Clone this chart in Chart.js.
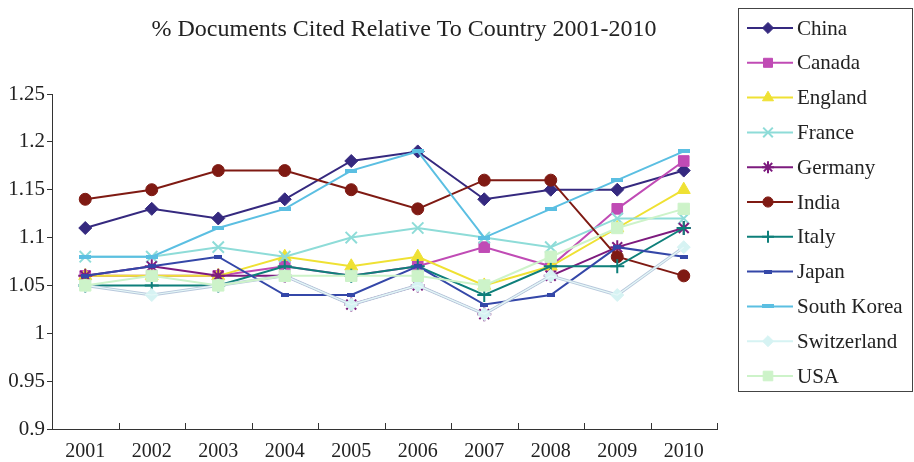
<!DOCTYPE html>
<html>
<head>
<meta charset="utf-8">
<script src="https://cdn.jsdelivr.net/npm/chart.js@4.4.1/dist/chart.umd.min.js"></script>
<style>
  html, body { margin: 0; padding: 0; background: #ffffff; }
  #wrap { width: 914px; height: 462px; position: relative; }
</style>
</head>
<body>
<div id="wrap"><canvas id="c" width="914" height="462"></canvas></div>
<script>
// Years on the category axis
const years = ['2001', '2002', '2003', '2004', '2005', '2006', '2007', '2008', '2009', '2010'];

// Share of documents cited, relative to each country's average
const china       = [1.11, 1.13, 1.12, 1.14, 1.18, 1.19, 1.14, 1.15, 1.15, 1.17];
const canada      = [1.06, 1.06, 1.06, 1.07, 1.06, 1.07, 1.09, 1.07, 1.13, 1.18];
const england     = [1.06, 1.06, 1.06, 1.08, 1.07, 1.08, 1.05, 1.07, 1.11, 1.15];
const france      = [1.08, 1.08, 1.09, 1.08, 1.10, 1.11, 1.10, 1.09, 1.12, 1.12];
const germany     = [1.06, 1.07, 1.06, 1.06, 1.03, 1.05, 1.02, 1.06, 1.09, 1.11];
const india       = [1.14, 1.15, 1.17, 1.17, 1.15, 1.13, 1.16, 1.16, 1.08, 1.06];
const italy       = [1.05, 1.05, 1.05, 1.07, 1.06, 1.07, 1.04, 1.07, 1.07, 1.11];
const japan       = [1.06, 1.07, 1.08, 1.04, 1.04, 1.07, 1.03, 1.04, 1.09, 1.08];
const southKorea  = [1.08, 1.08, 1.11, 1.13, 1.17, 1.19, 1.10, 1.13, 1.16, 1.19];
const switzerland = [1.05, 1.04, 1.05, 1.06, 1.03, 1.05, 1.02, 1.06, 1.04, 1.09];
const usa         = [1.05, 1.06, 1.05, 1.06, 1.06, 1.06, 1.05, 1.08, 1.11, 1.13];

// Value axis ticks
const yTicks = [0.9, 0.95, 1, 1.05, 1.1, 1.15, 1.2, 1.25];

const titleText = '% Documents Cited Relative To Country 2001-2010';
const serif = '"Liberation Serif", "Times New Roman", serif';

// Small flat bar markers (Japan, South Korea)
function barMarker(w, h, color) {
  const c = document.createElement('canvas');
  c.width = w; c.height = h;
  const g = c.getContext('2d');
  g.fillStyle = color;
  g.fillRect(0, 0, w, h);
  return c;
}

const series = [
  { label: 'China',       data: china,       color: '#35297f', style: 'rectRot',  r: 6.5 },
  { label: 'Canada',      data: canada,      color: '#c04bb5', style: 'rect',     r: 7.5 },
  { label: 'England',     data: england,     color: '#efe133', style: 'triangle', r: 7.5 },
  { label: 'France',      data: france,      color: '#8edcd8', style: 'crossRot', r: 8 },
  { label: 'Germany',     data: germany,     color: '#7d1b7e', style: 'star',     r: 7 },
  { label: 'India',       data: india,       color: '#7f1a13', style: 'circle',   r: 6 },
  { label: 'Italy',       data: italy,       color: '#0e7f7a', style: 'cross',    r: 7 },
  { label: 'Japan',       data: japan,       color: '#3447a8', style: barMarker(8, 4, '#3447a8'),  r: 5 },
  { label: 'South Korea', data: southKorea,  color: '#5bbfe2', style: barMarker(12, 4, '#5bbfe2'), r: 6 },
  { label: 'Switzerland', data: switzerland, color: '#d6f3f3', style: 'rectRot',  r: 6.5 },
  { label: 'USA',         data: usa,         color: '#cdf3c9', style: 'rect',     r: 8 }
];

const datasets = series.map((s, i) => ({
  label: s.label,
  data: s.data,
  borderColor: s.label === 'Switzerland' ? '#b8c8dc' : s.color,
  backgroundColor: s.color,
  borderWidth: s.label === 'Switzerland' ? 3 : 2,
  pointStyle: s.style,
  pointRadius: s.r,
  pointHoverRadius: s.r,
  pointBorderColor: s.color,
  pointBackgroundColor: s.color,
  pointBorderWidth: (s.style === 'cross' || s.style === 'crossRot' || s.style === 'star') ? 2 : 1,
  tension: 0,
  fill: false,
  clip: false,
  order: series.length - i
}));

// Light core of the Switzerland line, drawn over its darker edge
const doubleLine = {
  id: 'doubleLine',
  afterDatasetDraw(chart, args) {
    const ds = chart.data.datasets[args.index];
    if (ds.label !== 'Switzerland') return;
    const pts = args.meta.data;
    const ctx = chart.ctx;
    ctx.save();
    ctx.strokeStyle = '#e6f8f8';
    ctx.lineWidth = 1.2;
    ctx.beginPath();
    pts.forEach((p, k) => { if (k === 0) ctx.moveTo(p.x, p.y); else ctx.lineTo(p.x, p.y); });
    ctx.stroke();
    ctx.restore();
  }
};

// Title, inward category ticks and boxed legend
const decorations = {
  id: 'decorations',
  afterDraw(chart) {
    const ctx = chart.ctx;
    const area = chart.chartArea;
    ctx.save();

    ctx.fillStyle = '#222';
    ctx.font = '24px ' + serif;
    ctx.textAlign = 'center';
    ctx.textBaseline = 'alphabetic';
    ctx.fillText(titleText, 404, 36);

    const n = years.length;
    const step = (area.right - area.left) / n;
    ctx.strokeStyle = '#333';
    ctx.lineWidth = 1;
    for (let i = 1; i <= n; i++) {
      const x = Math.round(area.left + i * step) + 0.5;
      ctx.beginPath();
      ctx.moveTo(x, area.bottom);
      ctx.lineTo(x, area.bottom - 6);
      ctx.stroke();
    }

    // legend box
    ctx.strokeStyle = '#444';
    ctx.lineWidth = 1;
    ctx.strokeRect(738.5, 8.5, 174, 383);

    ctx.font = '21px ' + serif;
    ctx.textAlign = 'left';
    ctx.textBaseline = 'middle';
    series.forEach((s, i) => {
      const y = 28 + i * 34.8;
      ctx.strokeStyle = s.label === 'Switzerland' ? '#d6f3f3' : s.color;
      ctx.lineWidth = 2;
      ctx.beginPath();
      ctx.moveTo(747, y);
      ctx.lineTo(793, y);
      ctx.stroke();
      ctx.fillStyle = s.color;
      ctx.strokeStyle = s.color;
      ctx.lineWidth = (s.style === 'cross' || s.style === 'crossRot' || s.style === 'star') ? 2 : 1;
      Chart.helpers.drawPoint(ctx, { pointStyle: s.style, rotation: 0, radius: s.r * 0.85, borderWidth: ctx.lineWidth }, 768, y);
      ctx.fillStyle = '#222';
      ctx.fillText(s.label, 797, y + 1);
    });
    ctx.restore();
  }
};

new Chart(document.getElementById('c'), {
  type: 'line',
  data: { labels: years, datasets },
  plugins: [doubleLine, decorations],
  options: {
    responsive: false,
    animation: false,
    devicePixelRatio: 1,
    layout: { padding: { top: 94, right: 197, left: 0, bottom: 0 } },
    plugins: {
      legend: { display: false },
      title: { display: false },
      tooltip: { enabled: false }
    },
    scales: {
      x: {
        type: 'category',
        offset: true,
        afterFit(s) { s.height = 33; },
        grid: { display: true, drawOnChartArea: false, drawTicks: false },
        border: { display: true, color: '#333', width: 1 },
        ticks: { color: '#222', font: { family: serif, size: 20 }, padding: 11, maxRotation: 0, autoSkip: false }
      },
      y: {
        min: 0.9,
        max: 1.25,
        afterFit(s) { s.width = 52; },
        afterBuildTicks(s) { s.ticks = yTicks.map(v => ({ value: v })); },
        grid: { display: true, drawOnChartArea: false, drawTicks: true, tickLength: 5, color: '#333' },
        border: { display: true, color: '#333', width: 1 },
        ticks: {
          color: '#222',
          font: { family: serif, size: 21 },
          padding: 2,
          callback(v) { return String(parseFloat(Number(v).toFixed(2))); }
        }
      }
    }
  }
});
</script>
</body>
</html>
